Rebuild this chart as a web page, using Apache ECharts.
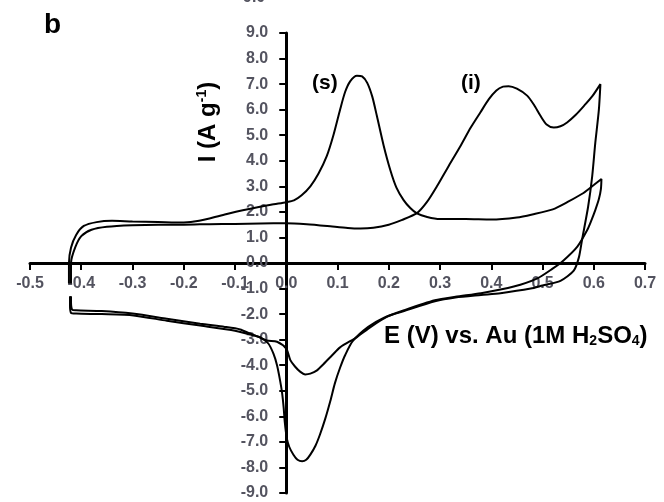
<!DOCTYPE html>
<html>
<head>
<meta charset="utf-8">
<style>
    html, body { margin: 0; padding: 0; background: #fff; }
    #cvChart { width: 664px; height: 502px; }
</style>
<script src="https://cdn.jsdelivr.net/npm/echarts@6/dist/echarts.min.js"></script>
</head>
<body>
<div id="cvChart"></div>
<script>
// 曲线 (s) 的电位与电流
const sPotential = [-0.424, -0.424, -0.42, -0.41, -0.395, -0.37, -0.34, -0.3, -0.25, -0.2, -0.17, -0.12, -0.07, -0.03, 0, 0.015, 0.03, 0.047, 0.063, 0.079, 0.092, 0.105, 0.115, 0.125, 0.138, 0.148, 0.158, 0.168, 0.177, 0.19, 0.203, 0.215, 0.229, 0.242, 0.255, 0.275, 0.3, 0.35, 0.4, 0.45, 0.48, 0.52, 0.55, 0.58, 0.6, 0.615,
    0.614, 0.61, 0.603, 0.595, 0.587, 0.568, 0.541, 0.519, 0.49, 0.444, 0.38, 0.33, 0.29, 0.23, 0.19, 0.16, 0.13, 0.115, 0.105, 0.095, 0.086, 0.076, 0.066, 0.057, 0.047, 0.039, 0.031, 0.022, 0.014, 0.006, 0.001, -0.003, -0.005, -0.008, -0.012, -0.018, -0.025, -0.035, -0.05, -0.07, -0.1, -0.168, -0.233, -0.298, -0.36, -0.41, -0.42, -0.422, -0.422];
const sCurrent = [-0.8, 0, 0.6, 1.1, 1.45, 1.6, 1.65, 1.62, 1.6, 1.58, 1.65, 1.9, 2.12, 2.28, 2.38, 2.45, 2.65, 3.0, 3.5, 4.18, 5.0, 6.0, 6.7, 7.12, 7.33, 7.3, 7.05, 6.5, 5.74, 4.6, 3.64, 2.95, 2.46, 2.15, 1.94, 1.8, 1.72, 1.72, 1.7, 1.78, 1.9, 2.1, 2.4, 2.74, 3.05, 3.29,
    2.9, 2.5, 2.07, 1.65, 1.28, 0.64, 0.1, -0.23, -0.6, -0.92, -1.18, -1.32, -1.46, -1.85, -2.15, -2.5, -3.05, -3.6, -4.1, -4.7, -5.4, -6.1, -6.7, -7.15, -7.5, -7.7, -7.76, -7.7, -7.5, -7.2, -6.85, -6.2, -5.67, -5.1, -4.6, -4.0, -3.55, -3.15, -2.92, -2.8, -2.65, -2.45, -2.26, -2.05, -2.0, -1.98, -1.95, -1.6, -1.3];

// 曲线 (i) 的电位与电流
const iPotential = [-0.42, -0.42, -0.412, -0.4, -0.38, -0.35, -0.3, -0.25, -0.2, -0.15, -0.1, -0.05, 0, 0.04, 0.08, 0.12, 0.145, 0.17, 0.2, 0.225, 0.255, 0.275, 0.294, 0.317, 0.34, 0.36, 0.379, 0.395, 0.41, 0.423, 0.434, 0.45, 0.47, 0.483, 0.496, 0.508, 0.522, 0.535, 0.548, 0.565, 0.581, 0.598, 0.613,
    0.61, 0.603, 0.597, 0.589, 0.577, 0.571, 0.561, 0.535, 0.5, 0.477, 0.418, 0.38, 0.33, 0.29, 0.23, 0.197, 0.165, 0.138, 0.105, 0.09, 0.073, 0.06, 0.047, 0.037, 0.027, 0.017, 0.008, 0, -0.018, -0.038, -0.055, -0.07, -0.09, -0.12, -0.168, -0.233, -0.3, -0.36, -0.41, -0.418, -0.42, -0.42];
const iCurrent = [-0.8, 0, 0.6, 1.05, 1.3, 1.42, 1.48, 1.5, 1.5, 1.52, 1.53, 1.55, 1.56, 1.52, 1.45, 1.37, 1.35, 1.38, 1.5, 1.68, 1.95, 2.4, 3.0, 3.8, 4.58, 5.3, 5.9, 6.4, 6.75, 6.9, 6.92, 6.82, 6.55, 6.2, 5.76, 5.42, 5.3, 5.35, 5.5, 5.8, 6.15, 6.55, 7.0,
    6.0, 4.7, 3.4, 2.2, 0.89, 0.22, -0.3, -0.7, -0.88, -1.0, -1.18, -1.25, -1.35, -1.5, -1.88, -2.1, -2.5, -2.9, -3.3, -3.6, -3.95, -4.2, -4.33, -4.36, -4.25, -4.05, -3.8, -3.35, -3.08, -3.03, -2.88, -2.77, -2.6, -2.5, -2.38, -2.18, -1.98, -1.88, -1.85, -1.82, -1.5, -1.3];

// 坐标轴范围与刻度
const xTicks = { min: -0.5, max: 0.7, step: 0.1 };
const yTicks = { min: -9, max: 9, step: 1 };

document.addEventListener('DOMContentLoaded', function () {
    initCvChart();
});

function zip(xs, ys) {
    return xs.map((x, k) => [x, ys[k]]);
}

function initCvChart() {
    const chartDom = document.getElementById('cvChart');
    if (!chartDom) return;

    const myChart = echarts.init(chartDom);

    // 绘图区
    const grid = { left: 30, right: 19, top: 33, bottom: 9 };
    const plotW = 664 - grid.left - grid.right;
    const plotH = 502 - grid.top - grid.bottom;
    // 两轴交于原点：把坐标轴从边缘平移到 0 处
    const yAxisOffset = -plotW * (0 - xTicks.min) / (xTicks.max - xTicks.min);
    const xAxisOffset = -plotH * (0 - yTicks.min) / (yTicks.max - yTicks.min);

    const labelStyle = {
        color: '#53535f',
        fontSize: 16,
        fontWeight: 'bold',
        fontFamily: 'Liberation Sans',
        formatter: v => v.toFixed(1)
    };
    const lineStyle = { color: '#000', width: 2 };

    const option = {
        backgroundColor: '#fff',
        animation: false,
        grid: Object.assign({ outerBoundsMode: 'none' }, grid),
        xAxis: {
            type: 'value',
            min: xTicks.min,
            max: xTicks.max,
            interval: xTicks.step,
            offset: xAxisOffset,
            splitLine: { show: false },
            axisLine: { onZero: false, lineStyle: { color: '#000', width: 3 } },
            axisTick: { show: true, length: 7, lineStyle: { color: '#000', width: 2 } },
            axisLabel: Object.assign({ margin: 13 }, labelStyle)
        },
        yAxis: {
            type: 'value',
            min: yTicks.min,
            max: yTicks.max,
            interval: yTicks.step,
            offset: yAxisOffset,
            splitLine: { show: false },
            axisLine: { onZero: false, lineStyle: { color: '#000', width: 3 } },
            axisTick: { show: true, length: 7, lineStyle: { color: '#000', width: 2 } },
            axisLabel: Object.assign({ margin: 18 }, labelStyle)
        },
        series: [
            {
                name: '(s)',
                type: 'line',
                data: zip(sPotential, sCurrent),
                showSymbol: false,
                smooth: 0.25,
                lineStyle: lineStyle
            },
            {
                name: '(i)',
                type: 'line',
                data: zip(iPotential, iCurrent),
                showSymbol: false,
                smooth: 0.25,
                lineStyle: lineStyle
            }
        ],
        graphic: [
            {
                type: 'text', left: 44, top: 11,
                style: { text: 'b', font: 'bold 28px "Liberation Sans"', fill: '#000' }
            },
            {
                type: 'text', left: 243, top: -10,
                style: { text: '9.0', font: 'bold 16px "Liberation Sans"', fill: '#53535f' }
            },
            {
                type: 'text', left: 312, top: 73,
                style: { text: '(s)', font: 'bold 21px "Liberation Sans"', fill: '#000' }
            },
            {
                type: 'text', left: 461, top: 73,
                style: { text: '(i)', font: 'bold 21px "Liberation Sans"', fill: '#000' }
            },
            {
                // 纵轴标题
                type: 'text', x: 208, y: 122, rotation: Math.PI / 2,
                style: {
                    text: 'I (A g{sup|-1})',
                    font: 'bold 24px "Liberation Sans"',
                    fill: '#000',
                    align: 'center',
                    verticalAlign: 'middle',
                    rich: {
                        sup: { font: 'bold 14px "Liberation Sans"', fill: '#000', padding: [0, 0, 11, 0] }
                    }
                }
            },
            {
                // 横轴标题
                type: 'text', left: 384, top: 324,
                style: {
                    text: 'E (V) vs. Au (1M H{sub|2}SO{sub|4})',
                    font: 'bold 24px "Liberation Sans"',
                    fill: '#000',
                    rich: {
                        sub: { font: 'bold 14px "Liberation Sans"', fill: '#000', padding: [10, 0, 0, 0] }
                    }
                }
            }
        ]
    };

    myChart.setOption(option);

    window.addEventListener('resize', function () {
        myChart.resize();
    });
}
</script>
</body>
</html>
